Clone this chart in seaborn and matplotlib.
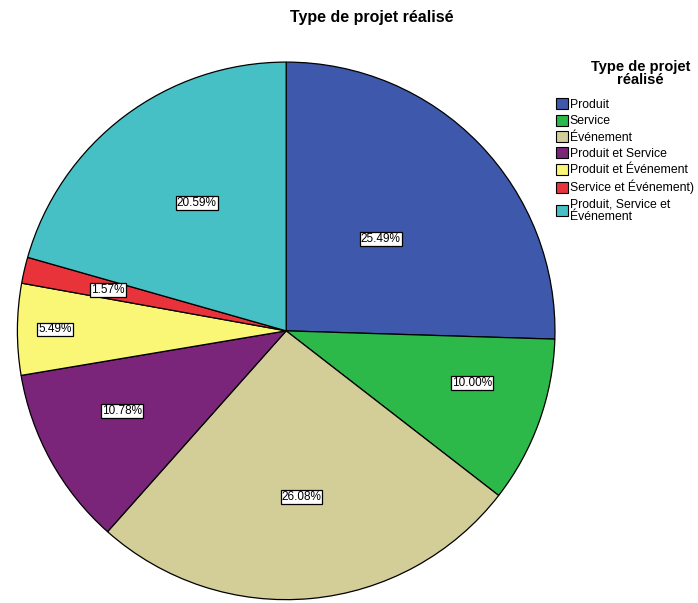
import matplotlib.pyplot as plt
import seaborn as sns
import numpy as np
from matplotlib.patches import Patch

categories = ["Produit", "Service", "Événement", "Produit et Service",
              "Produit et Événement", "Service et Événement)",
              "Produit, Service et\nÉvénement"]
percents = [25.49, 10.00, 26.08, 10.78, 5.49, 1.57, 20.59]
colors = ["#3E58AC", "#2DB84A", "#D3CE97", "#7A2579",
          "#FBF776", "#E8333B", "#47C0C5"]
# label placement: fraction of radius and angle shift from wedge middle (deg)
label_dist = [0.49, 0.72, 0.62, 0.68, 0.86, 0.68, 0.58]
label_shift = [0, 4, 0, -3, 0, 0, -2]

sns.set_theme(style="white")
plt.rcParams['font.family'] = ['Liberation Sans', 'DejaVu Sans']
plt.rcParams['text.color'] = 'black'

fig = plt.figure(figsize=(6.98, 6.03), dpi=100)
ax = fig.add_axes([0.023, 0.0033, 0.774, 0.896])

wedges, _ = ax.pie(percents, colors=colors, startangle=90, counterclock=False,
                   wedgeprops=dict(edgecolor="black", linewidth=0.9))

for w, p, d, s in zip(wedges, percents, label_dist, label_shift):
    ang = np.deg2rad((w.theta1 + w.theta2) / 2 + s)
    ax.text(d * np.cos(ang), d * np.sin(ang), f"{p:.2f}%",
            ha="center", va="center", fontsize=8.5, color="black",
            bbox=dict(boxstyle="square,pad=0.08", fc="white", ec="black", lw=0.9))
ax.set_xlim(-1.005, 1.005)
ax.set_ylim(-1.005, 1.005)
ax.set_aspect("equal")

fig.text(0.532, 0.971, "Type de projet réalisé", ha="center", va="center",
         fontsize=11.5, fontweight="bold", color="black")
fig.text(0.918, 0.878, "Type de projet\nréalisé", ha="center", va="center",
         fontsize=10.5, fontweight="bold", color="black", linespacing=0.85)

handles = [Patch(facecolor=c, edgecolor="black", linewidth=0.8) for c in colors]
leg = fig.legend(handles, categories, loc="upper left",
                 bbox_to_anchor=(0.789, 0.845), frameon=False,
                 fontsize=8.8,
                 handlelength=1.0, handleheight=1.0, handletextpad=0.15,
                 labelspacing=0.3, borderaxespad=0)
for t in leg.get_texts():
    t.set_color("black")
    t.set_linespacing(1.1)

fig.savefig("out.png", dpi=100)
